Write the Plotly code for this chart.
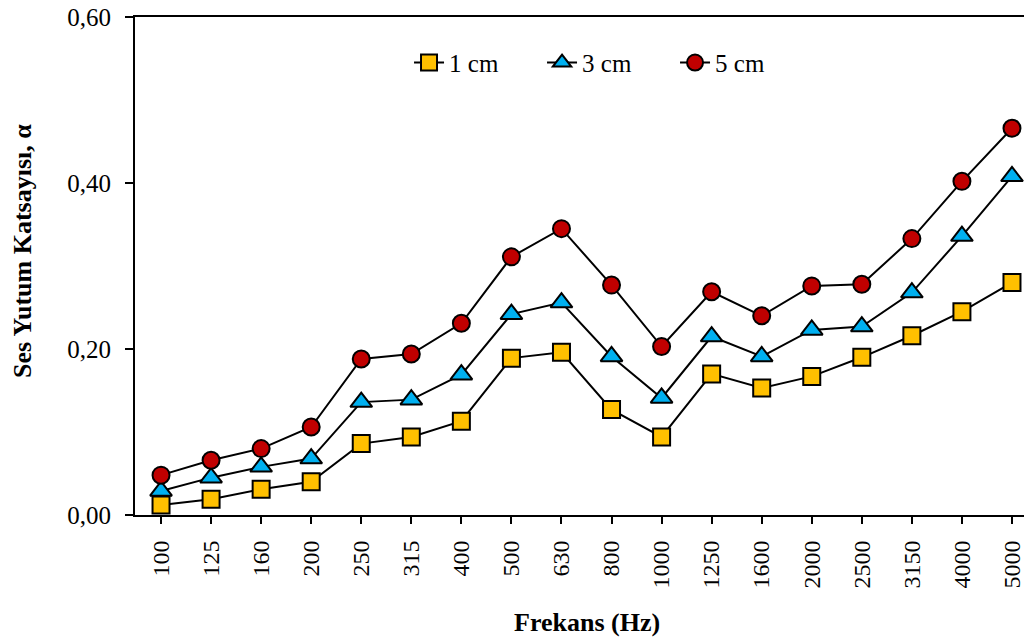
import plotly.graph_objects as go

freqs = ["100", "125", "160", "200", "250", "315", "400", "500", "630", "800",
         "1000", "1250", "1600", "2000", "2500", "3150", "4000", "5000"]
cm1 = [0.012, 0.019, 0.031, 0.040, 0.086, 0.094, 0.113, 0.189, 0.196, 0.127,
       0.094, 0.170, 0.153, 0.167, 0.190, 0.216, 0.245, 0.280]
cm3 = [0.029, 0.045, 0.058, 0.068, 0.136, 0.139, 0.169, 0.242, 0.256, 0.191,
       0.141, 0.215, 0.191, 0.223, 0.227, 0.268, 0.336, 0.408]
cm5 = [0.048, 0.066, 0.080, 0.106, 0.188, 0.194, 0.231, 0.311, 0.345, 0.277,
       0.203, 0.269, 0.240, 0.276, 0.278, 0.333, 0.402, 0.466]

series = [
    ("1 cm", cm1, "square", "#FFC000", 17),
    ("3 cm", cm3, "triangle-up", "#00B0F0", 19),
    ("5 cm", cm5, "circle", "#C00000", 17),
]

fig = go.Figure()
for name, vals, sym, col, sz in series:
    fig.add_trace(go.Scatter(
        x=freqs, y=vals, name=name, mode="lines+markers",
        line=dict(color="black", width=2),
        marker=dict(symbol=sym, size=sz, color=col,
                    line=dict(color="black", width=2)),
        cliponaxis=False,
    ))

font_family = "Liberation Serif, Times New Roman, serif"
# page body has an 8px margin, so the figure is sized to fill the rest of the window
fig.update_layout(
    width=1024, height=632,
    margin=dict(l=127, r=0, t=9, b=125),
    plot_bgcolor="white", paper_bgcolor="white",
    separators=",.",
    font=dict(family=font_family, size=24, color="black"),
    showlegend=True,
    legend=dict(orientation="h", x=0.3055, y=0.908, xanchor="left", yanchor="middle",
                font=dict(size=25, family=font_family), bgcolor="rgba(0,0,0,0)",
                entrywidth=88, entrywidthmode="pixels"),
    annotations=[
        dict(text="<b>Frekans (Hz)</b>", xref="paper", yref="paper",
             x=0.504, y=-0.215, xanchor="center", yanchor="middle", showarrow=False,
             font=dict(size=26, family=font_family)),
        dict(text="<b>Ses Yutum Katsayısı, α</b>", xref="paper", yref="paper",
             x=-0.1260, y=0.530, xanchor="center", yanchor="middle", showarrow=False,
             textangle=-90, font=dict(size=26, family=font_family)),
    ],
)
fig.update_xaxes(
    type="category", range=[-0.52, 17.4], automargin=False,
    showline=True, linecolor="black", linewidth=2, mirror=True,
    ticks="outside", ticklen=7, tickwidth=2, tickcolor="black",
    tickangle=-90, showgrid=False, zeroline=False, ticklabelstandoff=7,
    ticklabeloverflow="allow",
    tickfont=dict(size=24, family=font_family),
)
fig.update_yaxes(
    range=[0, 0.6], tickvals=[0, 0.2, 0.4, 0.6], tickformat=".2f", automargin=False,
    showline=True, linecolor="black", linewidth=2,
    ticks="outside", ticklen=8, tickwidth=2, tickcolor="black",
    showgrid=False, zeroline=False, ticklabelstandoff=9,
    ticklabeloverflow="allow",
    tickfont=dict(size=25, family=font_family),
)
fig.write_html("out.html")
